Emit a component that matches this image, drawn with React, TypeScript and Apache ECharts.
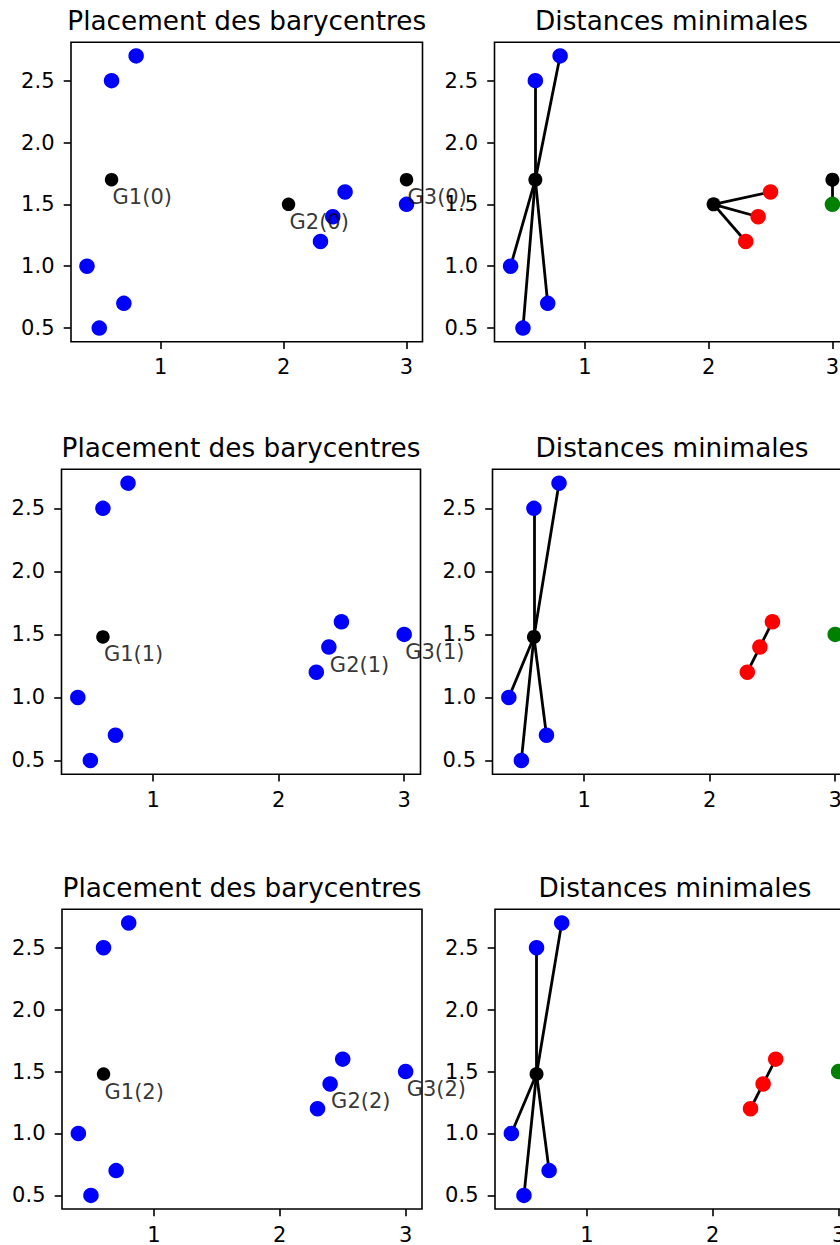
import React, { useEffect, useRef } from "react";
import * as echarts from "echarts";

// Data points
const pointsX = [0.6, 0.8, 0.4, 0.7, 0.5, 2.3, 2.4, 2.5, 3.0];
const pointsY = [2.5, 2.7, 1.0, 0.7, 0.5, 1.2, 1.4, 1.6, 1.5];
// cluster index of each point (nearest barycentre)
const clusterOf = [0, 0, 0, 0, 0, 1, 1, 1, 2];
const clusterColors = ["#0000ff", "#ff0000", "#008000"];
// barycentres per iteration (row)
const baryX = [
  [0.6, 2.04, 3.0],
  [0.6, 2.4, 3.0],
  [0.6, 2.4, 3.0],
];
const baryY = [
  [1.7, 1.5, 1.7],
  [1.48, 1.4, 1.5],
  [1.48, 1.4, 1.5],
];
const xTicks = [1, 2, 3];
const yTicks = [0.5, 1.0, 1.5, 2.0, 2.5];
const xRange = [0.27, 3.13];
const yRange = [0.39, 2.81];
const leftTitle = "Placement des barycentres";
const rightTitle = "Distances minimales";

// layout (pixels)
const rows = [
  { top: 42.3, height: 299.4, left: [71, 494.5], width: [351.5, 354] },
  { top: 469.3, height: 305, left: [61.5, 492.5], width: [359, 359] },
  { top: 909.3, height: 305.7, left: [62, 495], width: [360, 360] },
];

const FONT = "DejaVu Sans";

export default function App() {
  const ref = useRef<HTMLDivElement>(null);
  useEffect(() => {
    if (!ref.current) return;
    const chart = echarts.init(ref.current, undefined, { renderer: "svg" });
    const grid: any[] = [];
    const xAxis: any[] = [];
    const yAxis: any[] = [];
    const series: any[] = [];
    const graphic: any[] = [];
    rows.forEach((row, r) => {
      for (let c = 0; c < 2; c++) {
        const gi = r * 2 + c;
        grid.push({
          left: row.left[c],
          top: row.top,
          width: row.width[c],
          height: row.height,
          show: true,
          borderColor: "#000",
          borderWidth: 1.6,
          backgroundColor: "#fff",
          containLabel: false,
        });
        xAxis.push({
          gridIndex: gi,
          type: "value",
          min: xRange[0],
          max: xRange[1],
          axisLine: { show: false },
          splitLine: { show: false },
          axisTick: {
            show: true,
            customValues: xTicks,
            length: 7.3,
            lineStyle: { color: "#000", width: 1.6 },
          },
          axisLabel: {
            customValues: xTicks,
            color: "#000",
            fontSize: 21,
            fontFamily: FONT,
            margin: 15,
            formatter: (v: number) => String(v),
          },
        });
        yAxis.push({
          gridIndex: gi,
          type: "value",
          min: yRange[0],
          max: yRange[1],
          axisLine: { show: false },
          splitLine: { show: false },
          axisTick: {
            show: true,
            customValues: yTicks,
            length: 7.3,
            lineStyle: { color: "#000", width: 1.6 },
          },
          axisLabel: {
            customValues: yTicks,
            color: "#000",
            fontSize: 21,
            fontFamily: FONT,
            margin: 16.5,
            formatter: (v: number) => v.toFixed(1),
          },
        });
        graphic.push({
          type: "text",
          x: row.left[c] + row.width[c] / 2,
          y: row.top - 21.8,
          silent: true,
          style: {
            text: c === 0 ? leftTitle : rightTitle,
            fontSize: 26.3,
            fontFamily: FONT,
            fill: "#000",
            textAlign: "center",
            textVerticalAlign: "middle",
          },
        });
      }
      const gl = r * 2;
      const gr = r * 2 + 1;
      // Left panel: barycentres (black), points (blue), labels
      series.push({
        type: "scatter",
        xAxisIndex: gl,
        yAxisIndex: gl,
        z: 2,
        symbolSize: 13.5,
        itemStyle: { color: "#000", opacity: 1 },
        data: baryX[r].map((x, k) => [x, baryY[r][k]]),
        silent: true,
      });
      series.push({
        type: "scatter",
        xAxisIndex: gl,
        yAxisIndex: gl,
        z: 3,
        symbolSize: 15.5,
        itemStyle: { color: "#0000ff", opacity: 1 },
        data: pointsX.map((x, j) => [x, pointsY[j]]),
        silent: true,
      });
      series.push({
        type: "scatter",
        xAxisIndex: gl,
        yAxisIndex: gl,
        z: 4,
        symbolSize: 1,
        itemStyle: { color: "rgba(0,0,0,0)" },
        silent: true,
        clip: false,
        label: {
          show: true,
          position: [1.5, 7.5],
          align: "left",
          verticalAlign: "top",
          formatter: "{b}",
          color: "#000",
          fontSize: 21,
          fontFamily: FONT,
        },
        data: baryX[r].map((x, k) => ({
          name: `G${k + 1}(${r})`,
          value: [x, baryY[r][k]],
        })),
      });
      // Right panel: lines, barycentres, coloured points
      series.push({
        type: "lines",
        coordinateSystem: "cartesian2d",
        xAxisIndex: gr,
        yAxisIndex: gr,
        z: 1,
        silent: true,
        lineStyle: { color: "#000", width: 2.8, opacity: 1, curveness: 0 },
        data: pointsX.map((x, j) => {
          const c = clusterOf[j];
          return {
            coords: [
              [baryX[r][c], baryY[r][c]],
              [x, pointsY[j]],
            ],
          };
        }),
      });
      series.push({
        type: "scatter",
        xAxisIndex: gr,
        yAxisIndex: gr,
        z: 2,
        symbolSize: 14,
        itemStyle: { color: "#000", opacity: 1 },
        data: baryX[r].map((x, k) => [x, baryY[r][k]]),
        silent: true,
      });
      series.push({
        type: "scatter",
        xAxisIndex: gr,
        yAxisIndex: gr,
        z: 3,
        symbolSize: 15.5,
        silent: true,
        data: pointsX.map((x, j) => ({
          value: [x, pointsY[j]],
          itemStyle: { color: clusterColors[clusterOf[j]], opacity: 1 },
        })),
      });
    });
    chart.setOption({
      animation: false,
      grid,
      xAxis,
      yAxis,
      series,
      graphic,
    });
    return () => chart.dispose();
  }, []);
  return (
    <div
      style={{
        position: "absolute",
        left: 0,
        top: 0,
        width: 840,
        height: 1245,
        overflow: "hidden",
        background: "#fff",
      }}
    >
      <div ref={ref} style={{ width: 900, height: 1245 }} />
    </div>
  );
}
